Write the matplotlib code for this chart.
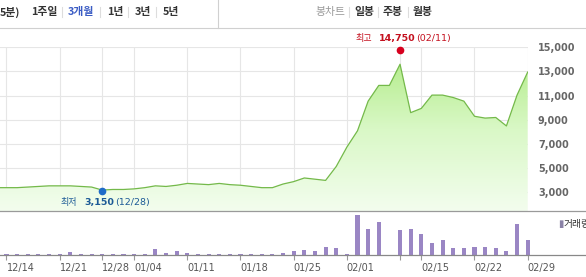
import numpy as np
import matplotlib
matplotlib.use('Agg')
import matplotlib.pyplot as plt
from matplotlib.colors import LinearSegmentedColormap
from matplotlib.lines import Line2D

plt.rcParams['font.family'] = ['DejaVu Sans', 'Noto Sans CJK KR']

# trading days (12/11 is only partly visible at the left edge)
dates = ['12/11',
         '12/14', '12/15', '12/16', '12/17', '12/18',
         '12/21', '12/22', '12/23', '12/24',
         '12/28', '12/29', '12/30',
         '01/04', '01/05', '01/06', '01/07', '01/08',
         '01/11', '01/12', '01/13', '01/14', '01/15',
         '01/18', '01/19', '01/20', '01/21', '01/22',
         '01/25', '01/26', '01/27', '01/28', '01/29',
         '02/01', '02/02', '02/03', '02/04', '02/05',
         '02/11', '02/12',
         '02/15', '02/16', '02/17', '02/18', '02/19',
         '02/22', '02/23', '02/24', '02/25', '02/26',
         '02/29']

close = [3400,
         3400, 3400, 3450, 3500, 3550,
         3550, 3550, 3500, 3450,
         3200, 3250, 3250,
         3300, 3400, 3550, 3500, 3600,
         3750, 3700, 3650, 3750, 3650,
         3600, 3500, 3400, 3400, 3700,
         3900, 4200, 4100, 4000, 5150,
         6750, 8100, 10550, 11850, 11850,
         13600, 9600,
         9950, 11050, 11050, 10850, 10550,
         9300, 9150, 9200, 8500, 11050,
         12950]

volume = [60,
          60, 60, 60, 60, 60,
          60, 200, 60, 60,
          60, 60, 60,
          60, 60, 340, 120, 260,
          120, 60, 60, 80, 60,
          60, 60, 60, 60, 100,
          270, 300, 220, 500, 420,
          60, 2400, 1560, 1980, 0,
          1520, 1540,
          1260, 740, 920, 420, 400,
          500, 460, 400, 260, 1860,
          920]

tick_dates = ['12/14', '12/21', '12/28', '01/04', '01/11', '01/18', '01/25',
              '02/01', '02/11', '02/15', '02/22', '02/29']
tick_text = ['12/14', '12/21', '12/28', '01/04', '01/11', '01/18', '01/25',
             '02/01', '', '02/15', '02/22', '02/29']
price_ticks = [3000, 5000, 7000, 9000, 11000, 13000, 15000]

high_date, high_val = '02/11', 14750
low_date, low_val = '12/28', 3150

W, H = 586, 277


def rect(x0, y0, x1, y1):
    return [x0 / W, 1 - y1 / H, (x1 - x0) / W, (y1 - y0) / H]


def fx(x):
    return x / W


def fy(y):
    return 1 - y / H


fig = plt.figure(figsize=(W / 100, H / 100), dpi=100)
fig.patch.set_facecolor('white')

idx = np.arange(len(dates))
ticks = [dates.index(d) for d in tick_dates]
xlim = (0.39, 50.03)
ylim = (1471, 15000)

# ---- price panel
ax = fig.add_axes(rect(0, 47.3, 528, 211))
for s in ax.spines.values():
    s.set_visible(False)
for v in price_ticks:
    ax.axhline(v, color='#e6e6e6', lw=0.8, zorder=0)
for t in ticks:
    ax.axvline(t, color='#e6e6e6', lw=0.8, zorder=0)

cmap = LinearSegmentedColormap.from_list('g', ['#f3fdee', '#d9f8c6', '#aeea82'])
grad = np.linspace(0, 1, 256).reshape(-1, 1)
im = ax.imshow(grad, extent=[xlim[0], xlim[1], ylim[0], ylim[1]], origin='lower',
               aspect='auto', cmap=cmap, zorder=1)
poly = ax.fill_between(idx, close, ylim[0], color='none', lw=0)
im.set_clip_path(poly.get_paths()[0], transform=ax.transData)
ax.plot(idx, close, color='#74b94a', lw=0.9, zorder=3)

hi = dates.index(high_date)
lo = dates.index(low_date)
ax.plot(hi, high_val, 'o', color='#d7001e', ms=4.5, zorder=4, clip_on=False)
ax.plot(lo, low_val, 'o', color='#1f6cc8', ms=4.5, zorder=4, clip_on=False)

ax.set_xlim(xlim)
ax.set_ylim(ylim)
ax.set_xticks([])
ax.yaxis.tick_right()
ax.set_yticks(price_ticks)
ax.set_yticklabels(['{:,}'.format(v) for v in price_ticks])
ax.tick_params(axis='y', length=0, pad=7.2, labelsize=7, labelcolor='#666')
for lab in ax.get_yticklabels():
    lab.set_fontweight('bold')

# high / low labels
red = '#c4101e'
fig.text(fx(356), fy(38.5), '최고', color=red, fontsize=6.5, va='center',
         family=['Noto Sans CJK KR', 'DejaVu Sans'])
fig.text(fx(378.5), fy(38.5), '{:,}'.format(high_val), color=red, fontsize=6.8,
         fontweight='bold', va='center')
fig.text(fx(416.5), fy(38.5), '(' + high_date + ')', color=red, fontsize=6.8, va='center')
blue = '#1c5a96'
fig.text(fx(60.5), fy(202.5), '최저', color=blue, fontsize=6.5, va='center',
         family=['Noto Sans CJK KR', 'DejaVu Sans'])
fig.text(fx(84), fy(202.5), '{:,}'.format(low_val), color=blue, fontsize=6.8,
         fontweight='bold', va='center')
fig.text(fx(115.5), fy(202.5), '(' + low_date + ')', color=blue, fontsize=6.8, va='center')

# ---- volume panel
axv = fig.add_axes(rect(0, 212, 528, 255))
for s in axv.spines.values():
    s.set_visible(False)
axv.bar(idx, volume, width=0.38, color='#9a86c4', zorder=2, clip_on=False)
axv.set_xlim(xlim)
axv.set_ylim(0, 2580)
axv.set_yticks([])
axv.set_xticks(ticks)
axv.set_xticklabels(tick_text)
axv.tick_params(axis='x', length=3.5, width=0.8, color='#999', pad=2.5,
                labelsize=7, labelcolor='#555')
for lab in axv.get_xticklabels():
    lab.set_horizontalalignment('left')

fig.text(fx(558), fy(224), '▮', color='#8a82a6', fontsize=7, va='center')
fig.text(fx(564), fy(224), '거래량', color='#333', fontsize=7, va='center',
         family=['Noto Sans CJK KR', 'DejaVu Sans'])

# full width rules
fig.add_artist(Line2D([0, 1], [fy(27.5), fy(27.5)], color='#d0d0d0', lw=0.8))
fig.add_artist(Line2D([0, 1], [fy(211.3), fy(211.3)], color='#9a9a9a', lw=0.9))
fig.add_artist(Line2D([0, 1], [fy(255.3), fy(255.3)], color='#888888', lw=0.9))

# ---- header tabs
kr = ['Noto Sans CJK KR', 'DejaVu Sans']
tabs = [(0, '5분)', '#333', 'bold'), (31, '1주일', '#333', 'bold'),
        (68, '3개월', '#3b5cc4', 'bold'), (107, '1년', '#333', 'bold'),
        (135, '3년', '#333', 'bold'), (163, '5년', '#333', 'bold'),
        (315, '봉차트', '#999', 'normal'), (354, '일봉', '#333', 'bold'),
        (383, '주봉', '#333', 'bold'), (413, '월봉', '#333', 'bold')]
for x, s, c, w in tabs:
    fig.text(fx(x), fy(12), s, color=c, fontsize=7.8, fontweight=w, va='center', family=kr)
for x in [62, 100, 128, 156, 349, 378, 408]:
    fig.add_artist(Line2D([fx(x), fx(x)], [fy(7), fy(17)], color='#dddddd', lw=0.8))
fig.add_artist(Line2D([fx(218), fx(218)], [fy(0), fy(27.5)], color='#d0d0d0', lw=0.8))

fig.savefig('out.png', dpi=100, facecolor='white')
